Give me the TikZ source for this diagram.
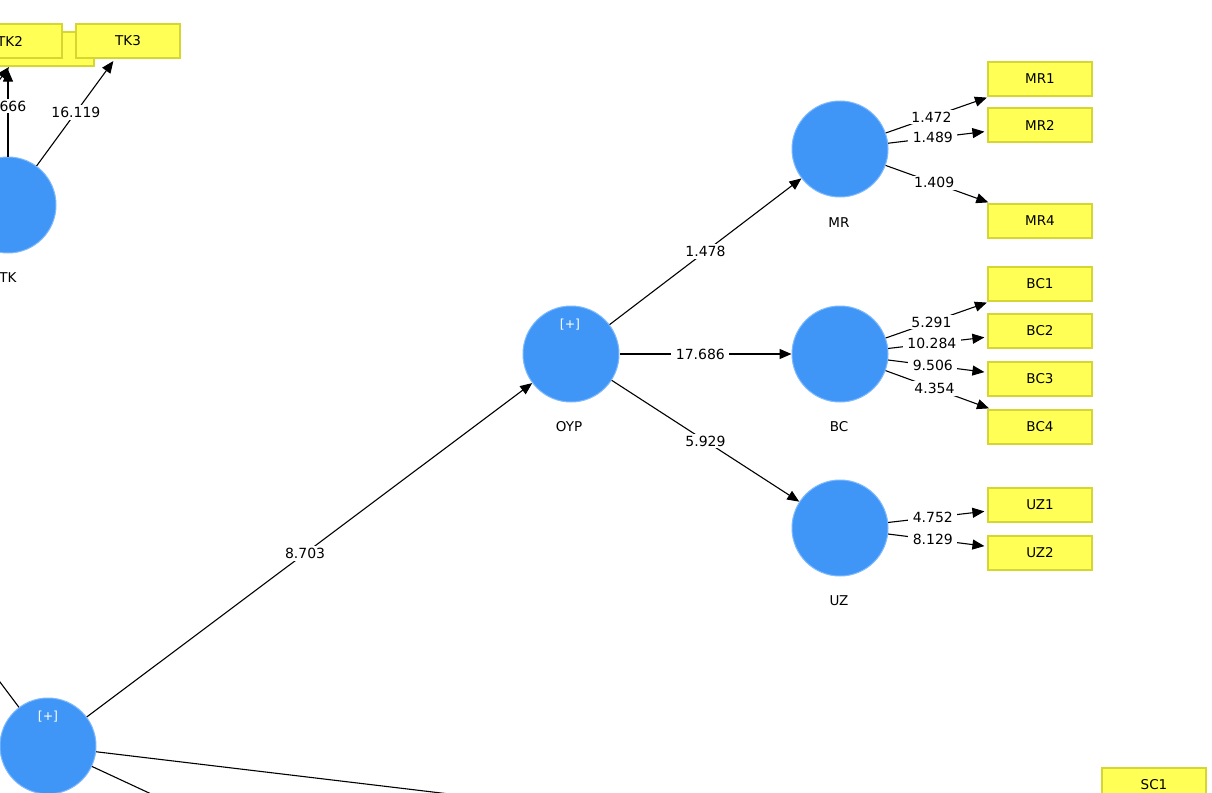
\documentclass[tikz,border=0pt]{standalone}
\usepackage{fontspec}
\setmainfont{DejaVu Sans}
\usetikzlibrary{arrows.meta}
\definecolor{lvblue}{RGB}{64,150,247}
\definecolor{lvedge}{RGB}{125,185,252}
\definecolor{mvfill}{RGB}{255,255,85}
\definecolor{mvedge}{RGB}{214,214,50}
\begin{document}
\begin{tikzpicture}[x=1pt,y=-1pt,
  lv/.style={circle,fill=lvblue,draw=lvedge,line width=1pt,minimum size=96pt,inner sep=0pt},
  mv/.style={rectangle,fill=mvfill,draw=mvedge,line width=1.2pt,minimum width=104pt,minimum height=34pt,inner sep=0pt,font=\fontsize{13.5}{16}\selectfont},
  arr/.style={draw=black,line width=1.1pt,-{Triangle[length=12pt,width=10pt]}},
  arrb/.style={arr,shorten >=3pt},
  pth/.style={draw=black,line width=1.1pt},
  lab/.style={fill=white,inner xsep=4.5pt,inner ysep=2pt,font=\fontsize{14}{16}\selectfont},
  lvname/.style={font=\fontsize{13.5}{16}\selectfont},
  plus/.style={text=white,font=\fontsize{12.5}{14}\selectfont}]
\useasboundingbox (0,0) rectangle (1212,792);
\clip (0,0) rectangle (1212,792);
\fill[white] (0,0) rectangle (1212,792);

% latent variables
\node[lv] (TK) at (8,205) {};
\node[lv] (OYP) at (571,354) {};
\node[lv] (MR) at (840,149) {};
\node[lv] (BC) at (840,354) {};
\node[lv] (UZ) at (840,528) {};
\node[lv] (X) at (48,746) {};

\node[lvname] (nTK) at (8,278) {TK};
\node[lvname] (nOYP) at (569,427) {OYP};
\node[lvname] (nMR) at (839,223) {MR};
\node[lvname] (nBC) at (839,427) {BC};
\node[lvname] (nUZ) at (839,601) {UZ};
\node[plus] (pOYP) at (570,325) {[+]};
\node[plus] (pX) at (48,717) {[+]};

% indicators
\node[mv] (TKb) at (42,49) {};
\node[mv] (TK2) at (10,41) {TK2};
\node[mv] (TK3) at (128,41) {TK3};
\node[mv] (MR1) at (1040,79) {MR1};
\node[mv] (MR2) at (1040,125) {MR2};
\node[mv] (MR4) at (1040,221) {MR4};
\node[mv] (BC1) at (1040,284) {BC1};
\node[mv] (BC2) at (1040,331) {BC2};
\node[mv] (BC3) at (1040,379) {BC3};
\node[mv] (BC4) at (1040,427) {BC4};
\node[mv] (UZ1) at (1040,505) {UZ1};
\node[mv] (UZ2) at (1040,553) {UZ2};
\node[mv] (SC1) at (1154,785) {SC1};

% free ends
\coordinate (tkin) at (-14,98);
\coordinate (tkhead) at (9,67);
\coordinate (offA) at (-30,642);
\coordinate (offB) at (600,812);
\coordinate (offC) at (190,812);

% TK
\draw[arrb] (TK) -- (TK3) node[lab,pos=0.5] (l16) {16.119};
\draw[arrb] (TK) -- (TK |- TKb.south);
\node[lab,anchor=east] (l666) at (31,106) {666};
\draw[arr] (tkin) -- (tkhead);

% structural paths
\draw[arr] (X) -- (OYP) node[lab,pos=0.49] (l8703) {8.703};
\draw[arr] (OYP) -- (MR) node[lab,pos=0.5] (l1478) {1.478};
\draw[arr] (OYP) -- (BC) node[lab,pos=0.47] (l17686) {17.686};
\draw[arr] (OYP) -- (UZ) node[lab,pos=0.5] (l5929) {5.929};
\draw[pth] (X) -- (offA);
\draw[pth] (X) -- (offB);
\draw[pth] (X) -- (offC);

% loadings
\draw[arrb] (MR) -- (MR1) node[lab,pos=0.44] {1.472};
\draw[arrb] (MR) -- (MR2) node[lab,pos=0.45] {1.489};
\draw[arrb] (MR) -- (MR4) node[lab,pos=0.46] {1.409};
\draw[arrb] (BC) -- (BC1) node[lab,pos=0.44] {5.291};
\draw[arrb] (BC) -- (BC2) node[lab,pos=0.44] {10.284};
\draw[arrb] (BC) -- (BC3) node[lab,pos=0.45] {9.506};
\draw[arrb] (BC) -- (BC4) node[lab,pos=0.46] {4.354};
\draw[arrb] (UZ) -- (UZ1) node[lab,pos=0.45] {4.752};
\draw[arrb] (UZ) -- (UZ2) node[lab,pos=0.45] {8.129};
\end{tikzpicture}
\end{document}
